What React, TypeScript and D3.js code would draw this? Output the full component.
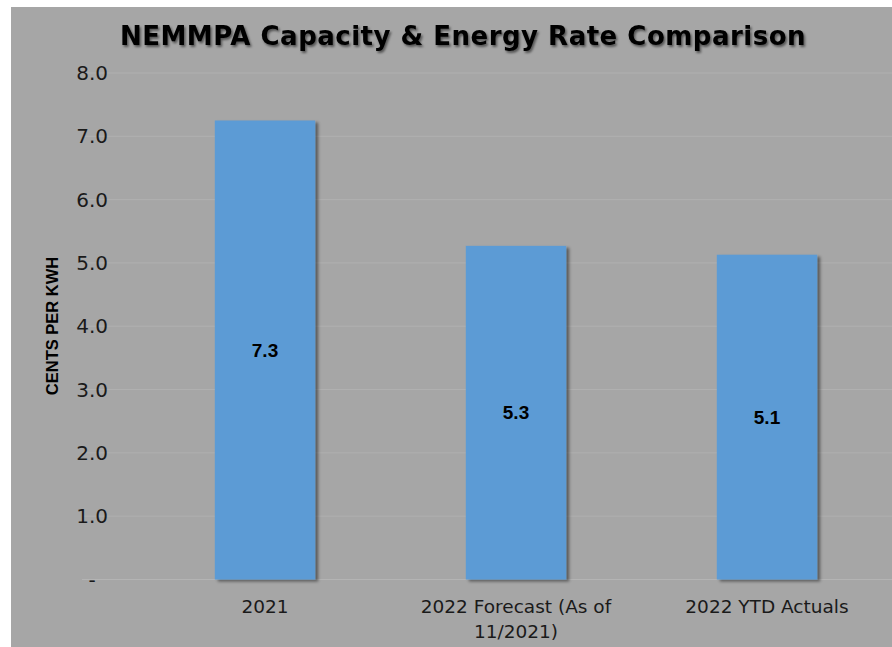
import * as d3 from "d3";

const categories = ["2021", "2022 Forecast (As of 11/2021)", "2022 YTD Actuals"];
const categoryLines = [["2021"], ["2022 Forecast (As of", "11/2021)"], ["2022 YTD Actuals"]];
const rateValues = [7.25, 5.27, 5.13];
const rateLabels = ["7.3", "5.3", "5.1"];
const yTicks = [0, 1, 2, 3, 4, 5, 6, 7, 8];

const W = 892;
const H = 647;
const BG = "#a6a6a6";
const BAR = "#5b9bd5";

const App = () => {
  const x = d3.scaleBand().domain(categories).range([139.5, 892.5]).paddingInner(0.6).paddingOuter(0.3);
  const y = d3.scaleLinear().domain([0, 8]).range([579.5, 73]);
  const fmt = (d: number) => (d === 0 ? "-" : d3.format(".1f")(d));

  return (
    <svg width={W} height={H} style={{ display: "block", position: "absolute", left: 0, top: 0 }}>
      <defs>
        <filter id="barShadow" x="-10%" y="-10%" width="130%" height="130%">
          <feDropShadow dx="3" dy="2" stdDeviation="1.8" floodColor="#000" floodOpacity="0.45" />
        </filter>
        <filter id="textShadow" x="-5%" y="-20%" width="110%" height="150%">
          <feDropShadow dx="1.5" dy="2" stdDeviation="1.2" floodColor="#000" floodOpacity="0.5" />
        </filter>
      </defs>
      <rect x={0} y={0} width={W} height={H} fill="#fff" />
      <rect x={11} y={7} width={W - 11} height={H - 7} fill={BG} />

      {yTicks.map((t) => (
        <g key={t}>
          <line x1={82} x2={W} y1={y(t)} y2={y(t)} stroke={t === 0 ? "#b4b4b4" : "#b0b0b0"} strokeWidth={1} />
          <text
            x={t === 0 ? 92 : 108}
            y={y(t)}
            dy="0.35em"
            textAnchor={t === 0 ? "middle" : "end"}
            fontFamily="DejaVu Sans"
            fontSize={20}
            fill="#1a1a1a"
          >
            {fmt(t)}
          </text>
        </g>
      ))}

      {categories.map((c, i) => (
        <g key={c}>
          <rect
            x={x(c)}
            y={y(rateValues[i])}
            width={x.bandwidth()}
            height={y(0) - y(rateValues[i])}
            fill={BAR}
            filter="url(#barShadow)"
          />
          <text
            x={(x(c) as number) + x.bandwidth() / 2}
            y={(y(rateValues[i]) + y(0)) / 2}
            dy="0.35em"
            textAnchor="middle"
            fontFamily="Liberation Sans, Arial"
            fontWeight="bold"
            fontSize={19}
            fill="#000"
          >
            {rateLabels[i]}
          </text>
          {categoryLines[i].map((ln, j) => (
            <text
              key={j}
              x={(x(c) as number) + x.bandwidth() / 2}
              y={607 + j * 25}
              dy="0.35em"
              textAnchor="middle"
              fontFamily="DejaVu Sans"
              fontSize={18.5}
              fill="#1a1a1a"
            >
              {ln}
            </text>
          ))}
        </g>
      ))}

      <text
        transform={`translate(52,326) rotate(-90)`}
        dy="0.35em"
        textAnchor="middle"
        fontFamily="Liberation Sans, Arial"
        fontWeight="bold"
        fontSize={16.5}
        fill="#000"
      >
        CENTS PER KWH
      </text>

      <text
        x={463}
        y={36}
        dy="0.35em"
        textAnchor="middle"
        fontFamily="DejaVu Sans"
        fontWeight="bold"
        fontSize={26}
        letterSpacing={0.5}
        fill="#000"
        filter="url(#textShadow)"
      >
        NEMMPA Capacity &amp; Energy Rate Comparison
      </text>
    </svg>
  );
};

export default App;
